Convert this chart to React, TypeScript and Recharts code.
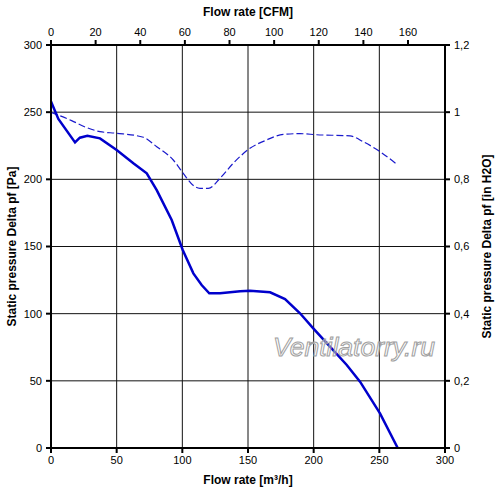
import React from 'react';
import { LineChart, Line, XAxis, YAxis, CartesianGrid, Label } from 'recharts';

// Solid curve: static pressure [Pa] vs flow rate [m³/h]
const solidFlow = [0, 5.6, 18.3, 22, 27.7, 37.3, 50, 62.7, 72.9, 80.5, 91.9, 100.3, 108.4, 114.7, 120.5, 128.7, 144, 151.5, 166.8, 178.2, 189.6, 199.7, 212.4, 225.2, 235.3, 250.5, 264];
const solidPressure = [258, 245, 227.5, 231, 232.5, 230.5, 221.8, 212, 204.5, 192, 169.7, 147.4, 130, 121.3, 115.2, 115.2, 116.6, 117.1, 115.9, 110.9, 100.3, 89.1, 75.4, 61.8, 49.4, 25.8, 0];

// Dashed curve
const dashedFlow = [0, 15.7, 27.2, 37.3, 50, 70.3, 80.5, 93.1, 100.7, 107.9, 113.4, 119.8, 128.7, 138.8, 151.5, 164.2, 176.9, 189.6, 202.3, 227.7, 237.8, 250.5, 264];
const dashedPressure = [249.9, 243.7, 238.5, 235.5, 234.3, 231.3, 224.3, 214.4, 204.5, 195.8, 193.3, 193.3, 200.8, 212, 223.1, 229.3, 233.5, 234, 233.2, 232.3, 228, 220.6, 210.7];

const m3hTicks = [0, 50, 100, 150, 200, 250, 300];
const cfmTicks = [0, 20, 40, 60, 80, 100, 120, 140, 160];
const paTicks = [0, 50, 100, 150, 200, 250, 300];
const inH2OTicks = [0, 0.2, 0.4, 0.6, 0.8, 1, 1.2];

const M3H_PER_CFM = 1.699;
const CFM_MAX = 300 / M3H_PER_CFM;

const solidData = solidFlow.map((q, i) => ({ q, p: solidPressure[i] }));
const dashedData = dashedFlow.map((q, i) => ({ q, p: dashedPressure[i] }));
// same solid curve expressed in CFM (invisible, only to bind the top axis)
const solidDataCfm = solidFlow.map((q, i) => ({ q: q / M3H_PER_CFM, p: solidPressure[i] }));

const FONT = 'Arial, "Liberation Sans", sans-serif';
const tickStyle = { fontSize: 11, fill: '#000', fontFamily: FONT };

const VLabel = (props: any) => {
  const { viewBox, value, cxOffset } = props;
  const cx = viewBox.x + cxOffset;
  const cy = viewBox.y + viewBox.height / 2;
  return (
    <text
      x={cx}
      y={cy}
      transform={`rotate(-90 ${cx} ${cy})`}
      textAnchor="middle"
      dominantBaseline="central"
      fontSize={12}
      fontWeight="bold"
      fontFamily={FONT}
      fill="#000"
    >
      {value}
    </text>
  );
};

const HLabel = (props: any) => {
  const { viewBox, value, cy } = props;
  const cx = viewBox.x + viewBox.width / 2;
  return (
    <text
      x={cx}
      y={viewBox.y + cy}
      textAnchor="middle"
      dominantBaseline="central"
      fontSize={12}
      fontWeight="bold"
      fontFamily={FONT}
      fill="#000"
    >
      {value}
    </text>
  );
};

const Watermark = (props: any) => {
  const { viewBox } = props;
  return (
    <text
      x={viewBox.x + 303}
      y={viewBox.y - 101}
      textAnchor="middle"
      dominantBaseline="central"
      fontSize={26}
      fontStyle="italic"
      fontFamily={FONT}
      fill="rgba(255,255,255,0.35)"
      stroke="#a0a0a0"
      strokeWidth={1}
      textLength={162}
      lengthAdjust="spacingAndGlyphs"
    >
      Ventilatorry.ru
    </text>
  );
};

export default function App() {
  return (
    <div style={{ position: 'absolute', left: 0, top: 0, width: 500, height: 494, background: '#fff' }}>
      <LineChart width={500} height={494} margin={{ top: 0, right: 0, bottom: 0, left: 0 }}>
        <CartesianGrid xAxisId="bottom" yAxisId="left" stroke="#111" strokeWidth={1} />
        <XAxis
          xAxisId="bottom"
          dataKey="q"
          type="number"
          domain={[0, 300]}
          ticks={m3hTicks}
          allowDataOverflow
          height={46}
          stroke="#000"
          strokeWidth={2}
          tickSize={5}
          tickMargin={3}
          tick={tickStyle}
          tickLine={{ stroke: '#000', strokeWidth: 2 }}
        >
          <Label content={<HLabel value="Flow rate [m³/h]" cy={32} />} />
          <Label content={<Watermark />} />
        </XAxis>
        <XAxis
          xAxisId="top"
          orientation="top"
          dataKey="q"
          type="number"
          domain={[0, CFM_MAX]}
          ticks={cfmTicks}
          allowDataOverflow
          height={45}
          stroke="#000"
          strokeWidth={2}
          tickSize={5}
          tickMargin={4}
          tick={tickStyle}
          tickLine={{ stroke: '#000', strokeWidth: 2 }}
        >
          <Label content={<HLabel value="Flow rate [CFM]" cy={12} />} />
        </XAxis>
        <YAxis
          yAxisId="left"
          type="number"
          domain={[0, 300]}
          ticks={paTicks}
          allowDataOverflow
          width={51}
          stroke="#000"
          strokeWidth={2}
          tickSize={5}
          tickMargin={4}
          tick={tickStyle}
          tickLine={{ stroke: '#000', strokeWidth: 2 }}
        >
          <Label content={<VLabel value="Static pressure Delta pf [Pa]" cxOffset={12} />} />
        </YAxis>
        <YAxis
          yAxisId="right"
          orientation="right"
          type="number"
          domain={[0, 1.2]}
          ticks={inH2OTicks}
          allowDataOverflow
          width={55}
          stroke="#000"
          strokeWidth={2}
          tickSize={5}
          tickMargin={4}
          tick={tickStyle}
          tickLine={{ stroke: '#000', strokeWidth: 2 }}
          tickFormatter={(v: number) => String(Math.round(v * 10) / 10).replace('.', ',')}
        >
          <Label content={<VLabel value="Static pressure Delta pf [in H2O]" cxOffset={42} />} />
        </YAxis>
        <Line
          xAxisId="top"
          yAxisId="left"
          data={solidDataCfm}
          dataKey="p"
          type="linear"
          stroke="none"
          strokeWidth={0}
          dot={false}
          activeDot={false}
          legendType="none"
          isAnimationActive={false}
        />
        <Line
          xAxisId="bottom"
          yAxisId="left"
          data={dashedData}
          dataKey="p"
          type="monotone"
          stroke="#1a1acc"
          strokeWidth={1.2}
          strokeDasharray="7 3"
          dot={false}
          activeDot={false}
          isAnimationActive={false}
        />
        <Line
          xAxisId="bottom"
          yAxisId="left"
          data={solidData}
          dataKey="p"
          type="linear"
          stroke="#0000cc"
          strokeWidth={2.5}
          dot={false}
          activeDot={false}
          isAnimationActive={false}
        />
      </LineChart>
    </div>
  );
}
